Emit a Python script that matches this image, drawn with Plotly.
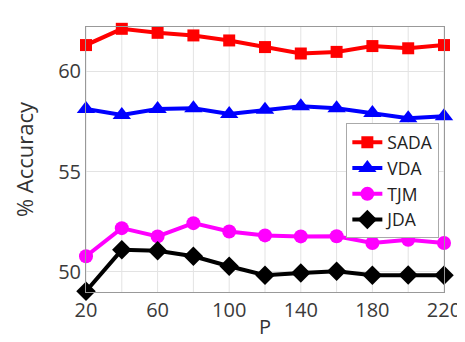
import plotly.graph_objects as go

P = [20, 40, 60, 80, 100, 120, 140, 160, 180, 200, 220]
sada = [61.30, 62.11, 61.91, 61.78, 61.53, 61.20, 60.88, 60.96, 61.25, 61.14, 61.30]
vda = [58.12, 57.82, 58.12, 58.15, 57.87, 58.08, 58.25, 58.15, 57.92, 57.66, 57.76]
tjm = [50.78, 52.18, 51.77, 52.43, 52.01, 51.82, 51.77, 51.78, 51.44, 51.60, 51.44]
jda = [49.04, 51.10, 51.05, 50.78, 50.28, 49.84, 49.95, 50.03, 49.84, 49.85, 49.84]
xtick_vals = [20, 60, 100, 140, 180, 220]
ytick_vals = [50, 55, 60]

FONT = "Open Sans"
fig = go.Figure()
series = [
    ("SADA", sada, "#ff0000", "square", 12),
    ("VDA", vda, "#0000ff", "triangle-up", 16),
    ("TJM", tjm, "#ff00ff", "circle", 14),
    ("JDA", jda, "#000000", "diamond", 15),
]
for name, ys, col, sym, sz in series:
    fig.add_trace(go.Scatter(
        x=P, y=ys, name=name, mode="lines+markers",
        line=dict(color=col, width=4),
        marker=dict(symbol=sym, size=sz, color=col),
        cliponaxis=False,
    ))

# vertical grid lines every 20
for xv in P:
    fig.add_shape(type="line", x0=xv, x1=xv, y0=0, y1=1, yref="paper",
                  line=dict(color="#e3e3e3", width=1), layer="below")

fig.add_annotation(text="P", x=0.5, xref="paper", y=0, yref="paper",
                   yanchor="middle", yshift=-34, showarrow=False, borderpad=0,
                   font=dict(family=FONT, size=20, color="#333333"))

fig.update_layout(
    width=465, height=342,
    margin=dict(l=78, r=20, t=19, b=58),
    paper_bgcolor="white", plot_bgcolor="white",
    font=dict(family=FONT, size=20, color="#444444"),
    showlegend=True,
    legend=dict(
        x=0.987, xanchor="right", y=0.636, yanchor="top",
        bgcolor="white", bordercolor="#aaaaaa", borderwidth=1,
        font=dict(family=FONT, size=17.5, color="#222222"),
        tracegroupgap=0, itemwidth=30,
    ),
    xaxis=dict(
        range=[20, 220], tickvals=xtick_vals, showgrid=False,
        showline=True, linecolor="#999999", mirror=True, zeroline=False,
        ticks="", tickfont=dict(size=20, color="#3a3a3a"),
    ),
    yaxis=dict(
        range=[49.0, 62.2], tickvals=ytick_vals, showgrid=True,
        gridcolor="#e3e3e3", showline=True, linecolor="#999999", mirror=True,
        zeroline=False, ticks="", tickfont=dict(size=20, color="#3a3a3a"),
        title=dict(text="% Accuracy", standoff=18, font=dict(size=22, color="#333333")),
    ),
)

fig.write_html("out.html")
